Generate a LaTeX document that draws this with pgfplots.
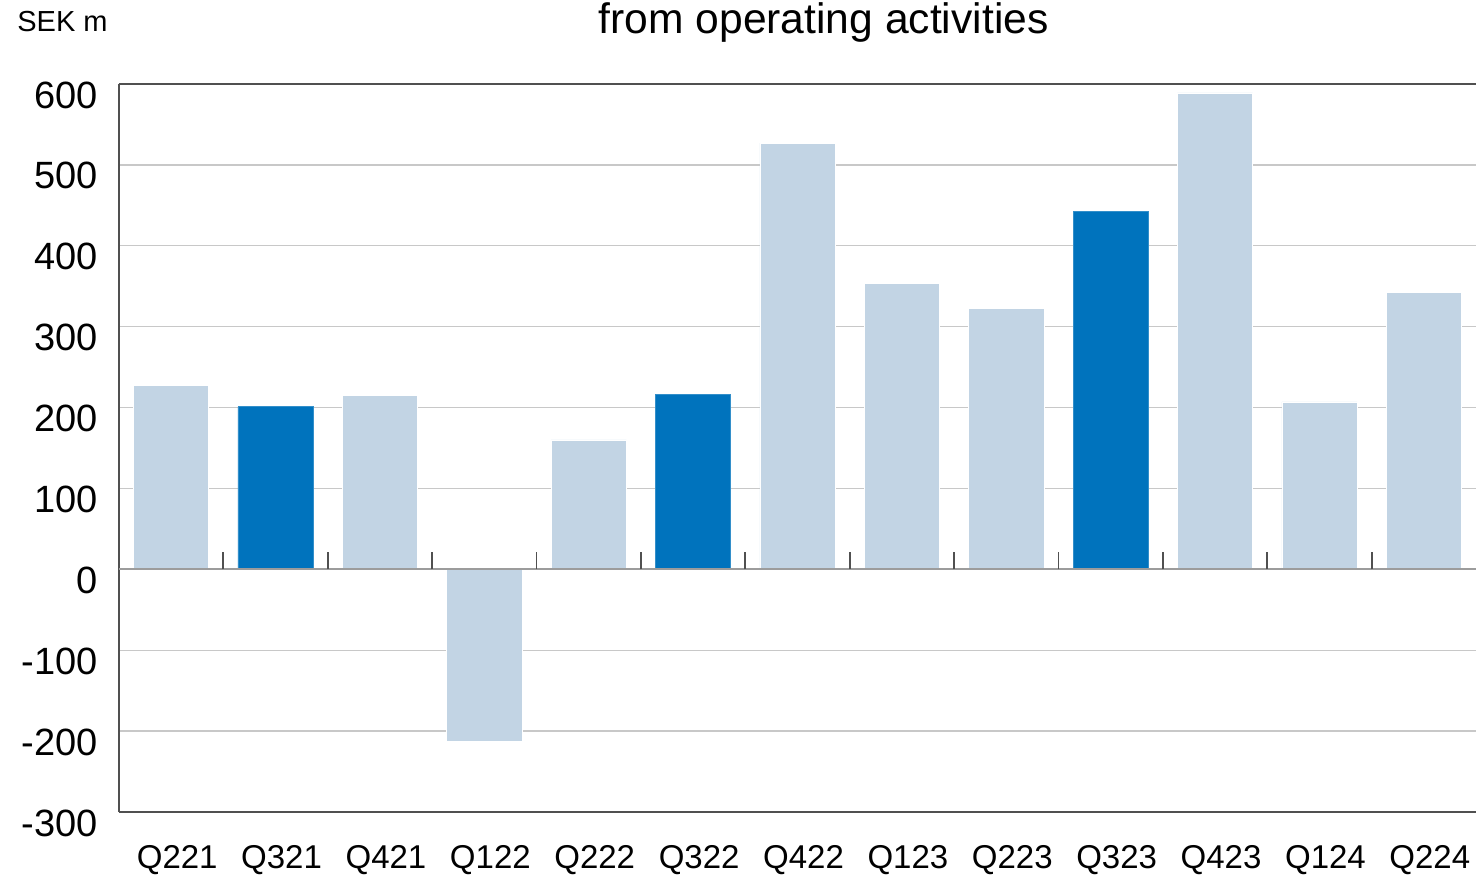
\documentclass[border=0pt]{standalone}
\usepackage{pgfplots}
\pgfplotsset{compat=1.18}
\usepackage{fontspec}
\setmainfont{Liberation Sans}
\definecolor{lightbar}{HTML}{C2D4E4}
\definecolor{darkbar}{HTML}{0073BD}
\definecolor{gridc}{HTML}{C8C8C8}
\definecolor{axc}{HTML}{505050}
\definecolor{zeroc}{HTML}{9C9C9C}
\begin{document}
\begin{tikzpicture}
\useasboundingbox (-59.5pt,-31pt) rectangle (678.5pt,406pt);
\begin{axis}[
  at={(0,0)}, anchor=south west,
  scale only axis, width=678.5pt, height=364pt,
  xmin=-0.5, xmax=12.5, ymin=-300, ymax=600,
  axis x line*=box, axis y line*=left,
  axis line style={axc, line width=0.7pt},
  xtick={0,...,12},
  xticklabels={Q221,Q321,Q421,Q122,Q222,Q322,Q422,Q123,Q223,Q323,Q423,Q124,Q224},
  ytick={-300,-200,...,600},
  yticklabels={-300,-200,-100,0,100,200,300,400,500,600},
  ymajorgrids, grid style={gridc, line width=0.7pt},
  major tick style={draw=none},
  yticklabel style={font=\fontsize{19}{19}\selectfont, inner sep=0pt, anchor=east, xshift=-10.5pt, yshift=-5.5pt},
  xticklabel style={font=\fontsize{16.5}{16.5}\selectfont, inner sep=0pt, anchor=north, yshift=-12.5pt, xshift=3pt},
  ybar, bar width=0.72, bar shift=0pt,
  clip=false,
]
\addplot[fill=lightbar, draw=white, line width=0.3pt] coordinates {
 (0,227) (2,215) (3,-212) (4,160) (6,527) (7,354) (8,323) (10,589) (11,207) (12,342)};
\addplot[fill=darkbar, draw=darkbar!80!white, line width=0.3pt] coordinates {
 (1,201) (5,216) (9,443)};
\draw[zeroc, line width=1pt] (axis cs:-0.5,0) -- (axis cs:12.5,0);
\pgfplotsinvokeforeach{0.5,1.5,2.5,3.5,4.5,5.5,6.5,7.5,8.5,9.5,10.5,11.5}{
  \draw[axc, line width=0.9pt] (axis cs:#1,0) -- (axis cs:#1,22);
}
\node[anchor=base, inner sep=0pt, font=\fontsize{21.3}{21.3}\selectfont] at ([yshift=25.5pt]axis cs:6.25,600) {from operating activities};
\node[anchor=base west, inner sep=0pt, font=\fontsize{14.5}{14.5}\selectfont] at ([xshift=-51pt,yshift=26.5pt]axis cs:-0.5,600) {SEK m};
\end{axis}
\end{tikzpicture}
\end{document}
